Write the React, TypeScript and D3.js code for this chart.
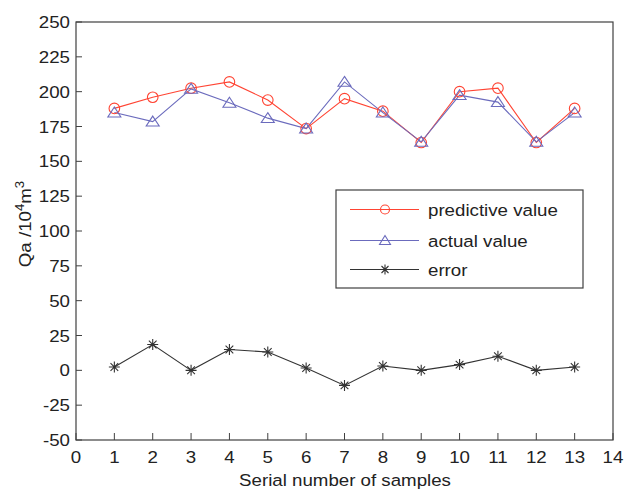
import React from "react";
import * as d3 from "d3";

const samples = [1, 2, 3, 4, 5, 6, 7, 8, 9, 10, 11, 12, 13];
const predictive = [188, 196, 202.5, 207, 194, 173.5, 195, 186, 163.5, 200, 202.5, 163.5, 188];
const actual = [185, 178.5, 202, 192, 181, 173.5, 207, 185, 164, 197.5, 192.5, 164, 185];
const errorVals = [2.4, 18.5, 0, 14.9, 13.2, 1.7, -10.8, 3.1, 0, 4.1, 10.1, 0, 2.4];
const xTicks = d3.range(0, 15, 1);
const yTicks = d3.range(-50, 251, 25);

const W = 627;
const H = 492;
const M = { left: 76, right: 613, top: 22, bottom: 440 };
const RED = "#ff4433";
const BLUE = "#6b6bbd";
const BLACK = "#333333";
const AXIS = "#404040";
const FONT = "'Liberation Sans', Arial, sans-serif";
const SX = 1.1;

function T(props: { x: number; y: number; anchor?: string; size?: number; rotate?: number; children: React.ReactNode }) {
  const { x, y, anchor = "start", size = 17, rotate = 0, children } = props;
  return (
    <text
      transform={`translate(${x},${y}) rotate(${rotate}) scale(${SX},1)`}
      textAnchor={anchor}
      fontSize={size}
      fill="#222"
    >
      {children}
    </text>
  );
}

export default function App() {
  const x = d3.scaleLinear().domain([0, 14]).range([M.left, M.right]);
  const y = d3.scaleLinear().domain([-50, 250]).range([M.bottom, M.top]);
  const line = d3
    .line<number>()
    .x((_, i) => x(samples[i]))
    .y((d) => y(d));

  const tri = (cx: number, cy: number, w = 6.5, h = 5.5) =>
    `M${cx},${cy - h}L${cx + w},${cy + h * 0.8}L${cx - w},${cy + h * 0.8}Z`;
  const star = (cx: number, cy: number, s = 5.5) => {
    const d = s * 0.7;
    return `M${cx},${cy - s}V${cy + s}M${cx - s},${cy}H${cx + s}M${cx - d},${cy - d}L${cx + d},${cy + d}M${cx - d},${cy + d}L${cx + d},${cy - d}`;
  };

  const legendItems = [
    { label: "predictive value", color: RED, kind: "circle" },
    { label: "actual value", color: BLUE, kind: "tri" },
    { label: "error", color: BLACK, kind: "star" },
  ];
  const legRows = [209.5, 240.5, 269.5];

  return (
    <svg
      width={W}
      height={H}
      style={{ position: "absolute", left: 0, top: 0, background: "#fff" }}
      fontFamily={FONT}
    >
      {/* series */}
      <path d={line(predictive) || ""} fill="none" stroke={RED} strokeWidth={1.1} />
      <path d={line(actual) || ""} fill="none" stroke={BLUE} strokeWidth={1.1} />
      <path d={line(errorVals) || ""} fill="none" stroke={BLACK} strokeWidth={1.1} />
      {predictive.map((v, i) => (
        <circle key={"p" + i} cx={x(samples[i])} cy={y(v)} r={5.3} fill="none" stroke={RED} strokeWidth={1.1} />
      ))}
      {actual.map((v, i) => (
        <path key={"a" + i} d={tri(x(samples[i]), y(v))} fill="none" stroke={BLUE} strokeWidth={1.1} />
      ))}
      {errorVals.map((v, i) => (
        <path key={"e" + i} d={star(x(samples[i]), y(v))} fill="none" stroke={BLACK} strokeWidth={1.1} />
      ))}

      {/* box */}
      <rect
        x={M.left}
        y={M.top}
        width={M.right - M.left}
        height={M.bottom - M.top}
        fill="none"
        stroke={AXIS}
        strokeWidth={1.2}
      />

      {/* ticks */}
      {xTicks.map((t) => (
        <g key={"xt" + t}>
          <line x1={x(t)} x2={x(t)} y1={M.bottom} y2={M.bottom - 7} stroke={AXIS} strokeWidth={1} />
          <T x={x(t)} y={463} anchor="middle">
            {t}
          </T>
        </g>
      ))}
      {yTicks.map((t) => (
        <g key={"yt" + t}>
          <line x1={M.left} x2={M.left + 6} y1={y(t)} y2={y(t)} stroke={AXIS} strokeWidth={1} />
          <T x={70} y={y(t) + 6} anchor="end">
            {t}
          </T>
        </g>
      ))}

      {/* axis labels */}
      <T x={345} y={486} anchor="middle">
        Serial number of samples
      </T>
      <T x={31} y={224} anchor="middle" rotate={-90}>
        Qa /10
        <tspan dy={-7} fontSize={12}>4</tspan>
        <tspan dy={7}>m</tspan>
        <tspan dy={-7} fontSize={12}>3</tspan>
      </T>

      {/* legend */}
      <rect x={336} y={190} width={247} height={98} fill="#fff" stroke={AXIS} strokeWidth={1.2} />
      {legendItems.map((it, i) => {
        const cy = legRows[i];
        return (
          <g key={"lg" + i}>
            <line x1={350} x2={419} y1={cy} y2={cy} stroke={it.color} strokeWidth={1.1} />
            {it.kind === "circle" && (
              <circle cx={385} cy={cy} r={4.5} fill="none" stroke={it.color} strokeWidth={1.1} />
            )}
            {it.kind === "tri" && <path d={tri(385, cy, 5.5, 5)} fill="none" stroke={it.color} strokeWidth={1.1} />}
            {it.kind === "star" && <path d={star(385, cy, 5)} fill="none" stroke={it.color} strokeWidth={1.1} />}
            <T x={428} y={cy + 6}>
              {it.label}
            </T>
          </g>
        );
      })}
    </svg>
  );
}
